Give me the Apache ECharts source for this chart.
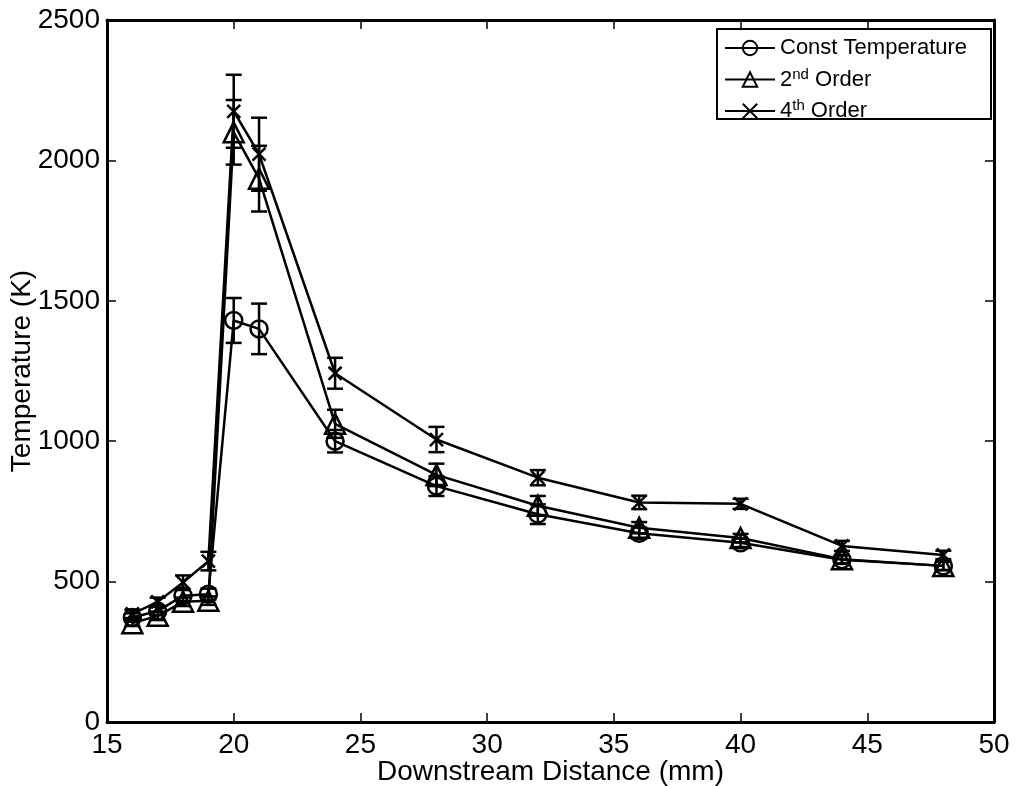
<!DOCTYPE html>
<html><head><meta charset="utf-8">
<script src="https://cdn.jsdelivr.net/npm/echarts@6/dist/echarts.min.js"></script>
<style>html,body{margin:0;padding:0;background:#fff}#c{width:1016px;height:786px}</style>
</head><body><div id="c"></div>
<script>
const distance = [16,17,18,19,20,21,24,28,32,36,40,44,48];
const constTemp = [372,395,450,455,1430,1400,1000,840,740,672,638,578,556];
const constErr  = [15,15,20,20,80,90,40,35,35,20,15,15,15];
const order2 = [352,378,428,432,2100,1935,1062,880,770,692,655,580,556];
const order2Err = [10,15,15,15,115,117,50,40,35,20,15,15,15];
const order4 = [385,428,497,573,2175,2022,1242,1006,870,782,777,627,595];
const order4Err = [15,15,25,33,130,130,55,45,27,24,18,18,15];
const xTicks = [15,20,25,30,35,40,45,50];
const yTicks = [0,500,1000,1500,2000,2500];

const FONT = 'Liberation Sans, Arial, sans-serif';
function pairs(v){ return distance.map((x,i)=>[x,v[i]]); }
function errData(v,e){ return distance.map((x,i)=>[x,v[i]-e[i],v[i]+e[i]]); }
function errSeries(v,e){
  return {
    type:'custom', data: errData(v,e), z: 3, silent:true,
    renderItem(params, api){
      const x = api.value(0);
      const lo = api.coord([x, api.value(1)]);
      const hi = api.coord([x, api.value(2)]);
      const w = 8;
      const st = {stroke:'#000', lineWidth:2.5, fill:null};
      return {type:'group', children:[
        {type:'line', shape:{x1:lo[0],y1:lo[1],x2:hi[0],y2:hi[1]}, style:st},
        {type:'line', shape:{x1:lo[0]-w,y1:lo[1],x2:lo[0]+w,y2:lo[1]}, style:st},
        {type:'line', shape:{x1:hi[0]-w,y1:hi[1],x2:hi[0]+w,y2:hi[1]}, style:st}
      ]};
    }
  };
}
const mkStyle = {color:'rgba(0,0,0,0)', borderColor:'#000', borderWidth:2.5};
const lineSeries = (name, v, symbol, size) => ({
  name, type:'line', data: pairs(v), symbol, symbolSize:size, showAllSymbol:true,
  lineStyle:{color:'#000', width:2.5}, itemStyle: mkStyle, z:4
});

const axisCommon = {
  axisLine:{show:true, onZero:false, lineStyle:{color:'#000', width:3}},
  axisTick:{show:true, inside:true, length:9, lineStyle:{color:'#000', width:1.5}},
  splitLine:{show:false}
};
const plain = v => String(v);

const chart = echarts.init(document.getElementById('c'), null, {renderer:'canvas'});
chart.setOption({
  animation:false,
  backgroundColor:'#fff',
  grid:{left:107, right:22, top:20, bottom:64, containLabel:false, outerBoundsMode:'none'},
  graphic:[{type:'rect', left:716, top:28, z:10, shape:{width:274, height:90},
    style:{fill:'#fff', stroke:'#000', lineWidth:2}}],
  xAxis:[
    Object.assign({type:'value', min:xTicks[0], max:xTicks[xTicks.length-1], interval:5, position:'bottom',
      name:'Downstream Distance (mm)', nameLocation:'middle', nameGap:36, nameMoveOverlap:false,
      nameTextStyle:{fontFamily:FONT, fontSize:28, color:'#000'},
      axisLabel:{fontFamily:FONT, fontSize:28, color:'#000', margin:9, formatter:plain}}, axisCommon),
    Object.assign({type:'value', min:15, max:50, interval:5, position:'top', axisLabel:{show:false}}, axisCommon)
  ],
  yAxis:[
    Object.assign({type:'value', min:yTicks[0], max:yTicks[yTicks.length-1], interval:500, position:'left',
      name:'Temperature (K)', nameLocation:'middle', nameGap:71, nameMoveOverlap:false,
      nameTextStyle:{fontFamily:FONT, fontSize:28, color:'#000'},
      axisLabel:{fontFamily:FONT, fontSize:28, color:'#000', margin:7, formatter:plain}}, axisCommon),
    Object.assign({type:'value', min:0, max:2500, interval:500, position:'right', axisLabel:{show:false}}, axisCommon)
  ],
  legend:{
    show:true, left:716, top:28, orient:'vertical', align:'left', z:20,
    borderWidth:0, padding:[9,10,8,8], itemGap:8, itemWidth:50, itemHeight:18,
    data:['Const Temperature','2nd Order','4th Order'],
    formatter(name){
      if(name==='2nd Order') return '2{sup|nd} Order';
      if(name==='4th Order') return '4{sup|th} Order';
      return name;
    },
    textStyle:{fontFamily:FONT, fontSize:22, color:'#000',
      rich:{sup:{fontFamily:FONT, fontSize:15, color:'#000', verticalAlign:'top', padding:[0,0,10,0]}}}
  },
  series:[
    errSeries(constTemp, constErr),
    errSeries(order2, order2Err),
    errSeries(order4, order4Err),
    lineSeries('Const Temperature', constTemp, 'circle', 17),
    lineSeries('2nd Order', order2, 'triangle', 20),
    lineSeries('4th Order', order4, 'path://M0,0L10,10M10,0L0,10', 13)
  ]
});
</script></body></html>
